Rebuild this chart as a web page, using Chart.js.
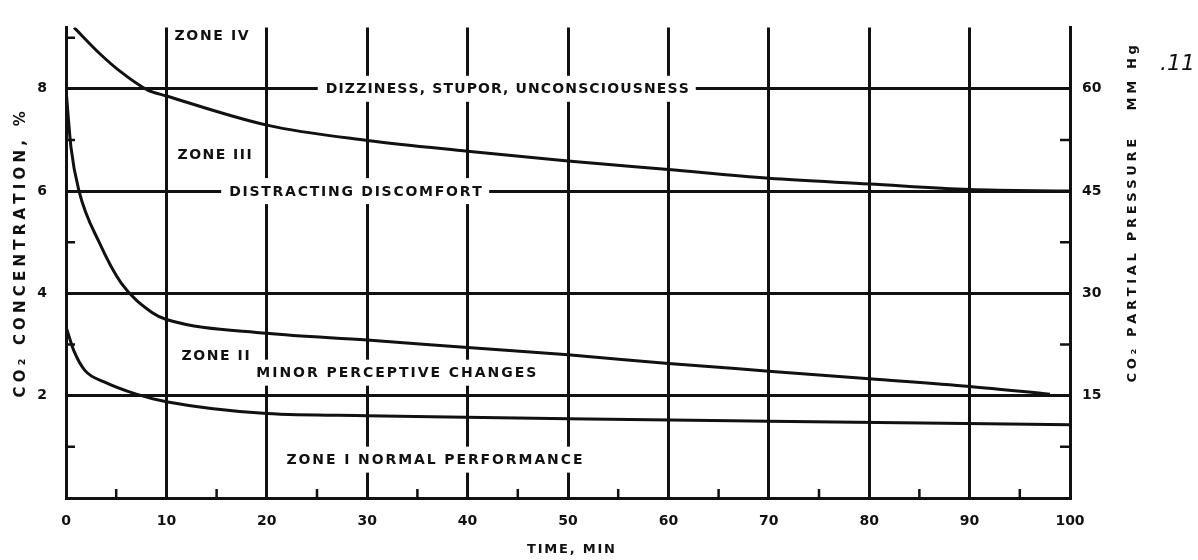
<!DOCTYPE html>
<html lang="en">
<head>
  <meta charset="UTF-8" />
  <title>CO2 Concentration - Performance Zones</title>
  <script src="https://cdn.jsdelivr.net/npm/chart.js"></script>
  <style>
    body {
      margin: 0;
      background: #fff;
    }
  </style>
</head>
<body>
  <canvas id="co2Chart" width="1198" height="560"></canvas>

  <script>
    // ---- data ----
    const timeMax = 100;          // minutes
    const pctMax = 9.2;           // top of the CO2 % axis
    const mmHgPerPct = 7.5;       // right axis = % x 7.5

    const minorPct = [1, 3, 5, 7, 9];
    const minorMmHg = [7.5, 22.5, 37.5, 52.5];
    const minorTime = [5, 15, 25, 35, 45, 55, 65, 75, 85, 95];

    // zone IV / III boundary
    const zone4Time = [0.8, 3.4, 5.4, 8.1, 10, 20, 30, 40, 50, 60, 70, 80, 90, 100];
    const zone4Pct  = [9.2, 8.68, 8.34, 7.98, 7.86, 7.29, 6.99, 6.78, 6.59, 6.42, 6.25, 6.14, 6.03, 6.0];

    // zone III / II boundary
    const zone3Time = [0, 0.5, 1.3, 3.3, 5.5, 8.6, 10, 20, 30, 40, 50, 60, 70, 80, 90, 98];
    const zone3Pct  = [8.0, 6.85, 6.0, 5.0, 4.2, 3.62, 3.49, 3.22, 3.09, 2.94, 2.80, 2.63, 2.48, 2.33, 2.18, 2.03];

    // zone II / I boundary
    const zone2Time = [0, 0.8, 1.9, 3.8, 7, 10, 20, 30, 50, 70, 100];
    const zone2Pct  = [3.35, 2.87, 2.49, 2.27, 2.03, 1.88, 1.65, 1.61, 1.55, 1.50, 1.43];

    const zoneLabels = [
      'ZONE IV',
      'DIZZINESS, STUPOR, UNCONSCIOUSNESS',
      'ZONE III',
      'DISTRACTING DISCOMFORT',
      'ZONE II',
      'MINOR PERCEPTIVE CHANGES',
      'ZONE I NORMAL PERFORMANCE'
    ];

    const INK = '#111';
    const FONT = "'DejaVu Sans', sans-serif";

    function toPoints(xs, ys) {
      return xs.map((t, i) => ({ x: t, y: ys[i] }));
    }

    // draws text stretched with letter gaps to a given width, centred on cx
    function spacedText(ctx, str, cx, cy, width) {
      const natural = ctx.measureText(str).width;
      const chars = [...str];
      const gap = chars.length > 1 ? (width - natural) / (chars.length - 1) : 0;
      let xPos = cx - width / 2;
      ctx.textAlign = 'left';
      chars.forEach(ch => {
        ctx.fillText(ch, xPos, cy);
        xPos += ctx.measureText(ch).width + gap;
      });
    }

    // where each zone label sits (time, %) and how wide it runs
    const labelLayout = [
      { t: 14.5, p: 9.05, w: 74, pad: 4 },
      { t: 43.9, p: 8.0,  w: 362, pad: 8 },
      { t: 14.8, p: 6.71, w: 74, pad: 6 },
      { t: 28.8, p: 6.0,  w: 252, pad: 8 },
      { t: 14.9, p: 2.79, w: 68, pad: 6 },
      { t: 32.9, p: 2.45, w: 280, pad: 7 },
      { t: 36.7, p: 0.75, w: 296, pad: 7 }
    ];

    const zoneText = {
      id: 'zoneText',
      beforeDatasetsDraw(chart) {
        const { ctx, scales: { x, y } } = chart;
        ctx.save();
        ctx.font = `bold 14px ${FONT}`;
        ctx.textBaseline = 'middle';
        zoneLabels.forEach((text, i) => {
          const L = labelLayout[i];
          const cx = x.getPixelForValue(L.t);
          const cy = y.getPixelForValue(L.p);
          ctx.fillStyle = '#fff';
          ctx.fillRect(cx - L.w / 2 - L.pad, cy - 13, L.w + 2 * L.pad, 26);
          ctx.fillStyle = INK;
          spacedText(ctx, text, cx, cy + 1, L.w);
        });
        ctx.restore();
      },
      afterDraw(chart) {
        const { ctx, chartArea: a, scales: { x, y, y2 } } = chart;
        ctx.save();
        ctx.strokeStyle = INK;
        ctx.lineWidth = 2.5;
        ctx.beginPath();
        minorPct.forEach(v => {
          const py = y.getPixelForValue(v);
          ctx.moveTo(a.left, py);
          ctx.lineTo(a.left + 9, py);
        });
        minorMmHg.forEach(v => {
          const py = y2.getPixelForValue(v);
          ctx.moveTo(a.right, py);
          ctx.lineTo(a.right - 10, py);
        });
        minorTime.forEach(v => {
          const px = x.getPixelForValue(v);
          ctx.moveTo(px, a.bottom);
          ctx.lineTo(px, a.bottom - 9);
        });
        ctx.stroke();

        // axis titles
        ctx.fillStyle = INK;
        ctx.textBaseline = 'middle';
        ctx.font = `bold 13px ${FONT}`;
        spacedText(ctx, 'TIME, MIN', 571, 550, 88);

        ctx.save();
        ctx.translate(21, 255);
        ctx.rotate(-Math.PI / 2);
        ctx.font = `bold 15px ${FONT}`;
        spacedText(ctx, 'CO₂ CONCENTRATION, %', 0, 0, 285);
        ctx.restore();

        ctx.save();
        ctx.translate(1133, 215);
        ctx.rotate(-Math.PI / 2);
        ctx.font = `bold 13px ${FONT}`;
        spacedText(ctx, 'CO₂ PARTIAL PRESSURE   MM Hg', 0, 0, 335);
        ctx.restore();

        ctx.font = `italic 22px ${FONT}`;
        ctx.textAlign = 'left';
        ctx.fillText('.11', 1160, 64);
        ctx.restore();
      }
    };

    const curveStyle = {
      borderColor: INK,
      borderWidth: 3,
      pointRadius: 0,
      fill: false,
      cubicInterpolationMode: 'monotone'
    };

    const tickFont = { family: FONT, size: 14, weight: 'bold' };

    new Chart(document.getElementById('co2Chart'), {
      type: 'line',
      data: {
        datasets: [
          { label: 'Zone IV / III', data: toPoints(zone4Time, zone4Pct), ...curveStyle },
          { label: 'Zone III / II', data: toPoints(zone3Time, zone3Pct), ...curveStyle },
          { label: 'Zone II / I', data: toPoints(zone2Time, zone2Pct), ...curveStyle }
        ]
      },
      options: {
        responsive: false,
        animation: false,
        layout: { padding: { top: 10 } },
        plugins: {
          legend: { display: false },
          tooltip: { enabled: false }
        },
        scales: {
          x: {
            type: 'linear',
            min: 0,
            max: timeMax,
            afterFit: s => { s.height = 62; },
            ticks: {
              stepSize: 10,
              autoSkip: false,
              maxRotation: 0,
              padding: 15,
              color: INK,
              font: tickFont
            },
            grid: {
              drawTicks: false,
              lineWidth: 3,
              color: c => (c.tick && c.tick.value > 0 && c.tick.value < timeMax) ? INK : 'rgba(0,0,0,0)'
            },
            border: { color: INK, width: 3 }
          },
          y: {
            position: 'left',
            min: 0,
            max: pctMax,
            afterFit: s => { s.width = 66; },
            ticks: {
              stepSize: 1,
              autoSkip: false,
              includeBounds: false,
              padding: 19,
              color: INK,
              font: tickFont,
              callback: v => (v > 0 && v % 2 === 0) ? v : ''
            },
            grid: {
              drawTicks: false,
              lineWidth: 3,
              color: c => (c.tick && c.tick.value > 0 && c.tick.value % 2 === 0) ? INK : 'rgba(0,0,0,0)'
            },
            border: { color: INK, width: 3 }
          },
          y2: {
            position: 'right',
            min: 0,
            max: pctMax * mmHgPerPct,
            afterFit: s => { s.width = 128; },
            ticks: {
              stepSize: 15,
              autoSkip: false,
              includeBounds: false,
              padding: 12,
              color: INK,
              font: tickFont,
              callback: v => v > 0 ? v : ''
            },
            grid: { drawOnChartArea: false, drawTicks: false },
            border: { color: INK, width: 3 }
          }
        }
      },
      plugins: [zoneText]
    });
  </script>
</body>
</html>
